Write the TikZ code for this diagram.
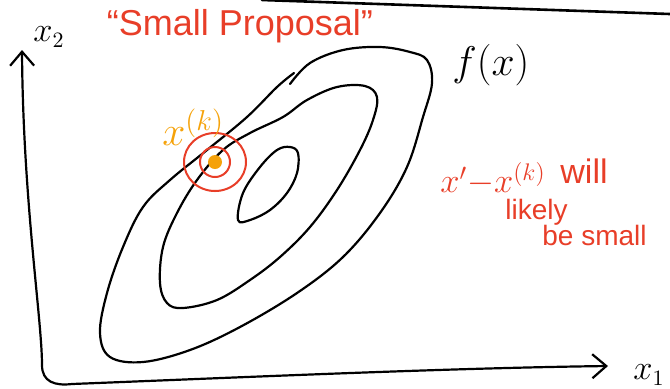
\documentclass[tikz,border=0pt]{standalone}
\usepackage{fontspec}
\usepackage{amsmath}
\setmainfont{Liberation Sans}
\usetikzlibrary{arrows.meta, positioning}

\definecolor{penred}{RGB}{232,62,40}
\definecolor{penorange}{RGB}{245,162,10}

\begin{document}
\begin{tikzpicture}[x=0.5pt, y=-0.5pt,
    pen/.style={black, line width=1.1pt, line cap=round, line join=round},
    axis/.style={pen, {Straight Barb[length=7pt,width=12pt]}-{Straight Barb[length=7pt,width=12pt]}},
    ring/.style={penred, line width=1pt},
    note/.style={text=penred, inner sep=0pt, font=\fontsize{14}{16}\selectfont},
    label/.style={inner sep=0pt, font=\fontsize{16}{18}\selectfont}]

    \useasboundingbox (0,0) rectangle (670,388);

    % page edge at the top
    \draw[pen, line width=1.3pt] (262,0) -- (670,14);

    % axes
    \coordinate (ytip) at (22,50);
    \coordinate (xtip) at (608,366);
    \draw[axis] (ytip) .. controls (23,200) and (42,320) .. (42,365)
        .. controls (42,382) and (55,386) .. (72,384)
        .. controls (250,377) and (450,368) .. (xtip);
    \node[label, anchor=west] (xtwo) at (33,37) {$x_2$};
    \node[label, anchor=west] (xone) at (633,375) {$x_1$};

    % level sets of f
    \draw[pen] plot[smooth, tension=0.6] coordinates {
        (290,84) (310,63) (343,50) (380,47) (410,52) (427,60) (432,83)
        (423,117) (407,167) (380,213) (343,257) (297,293) (240,327)
        (190,350) (143,362) (110,357) (100,333) (107,293) (123,247)
        (143,207) (170,180) (207,150) (247,117) (277,87) (294,73)};
    \draw[pen] plot[smooth cycle, tension=0.6] coordinates {
        (337,87) (307,100) (283,117) (250,133) (223,150) (197,180)
        (177,213) (163,247) (160,283) (167,303) (183,308) (217,300)
        (250,280) (280,257) (310,227) (337,190) (360,150) (373,120)
        (377,97) (365,86)};
    \draw[pen] plot[smooth cycle, tension=0.6] coordinates {
        (290,147) (277,150) (260,167) (243,193) (238,220) (250,220)
        (270,210) (287,193) (297,173) (298,153)};
    \node[label, anchor=west] (fx) at (452,65) {\fontsize{20}{22}\selectfont$f(x)$};

    % current point and small proposal rings
    \coordinate (xk) at (215,162);
    \draw[ring] (xk) ellipse (31 and 29);
    \draw[ring] (xk) ellipse (15 and 15);
    \fill[penorange] (xk) circle (7);
    \node[label, text=penorange, anchor=south west, font=\fontsize{21}{23}\selectfont] (xklabel) at (162,146) {$x^{(k)}$};

    % notes
    \node[note, font=\fontsize{18}{20}\selectfont] (title) at (240,26) {``Small Proposal''};
    \node[note, anchor=south west, font=\fontsize{18}{20}\selectfont] (diff) at (440,196) {$x'{-}x^{(k)}$};
    \node[note, anchor=south west, font=\fontsize{17}{19}\selectfont] (will) at (560,184) {will};
    \node[note, anchor=south west] (likely) at (505,226) {likely};
    \node[note, anchor=south west] (small) at (542,246) {be small};
\end{tikzpicture}
\end{document}
